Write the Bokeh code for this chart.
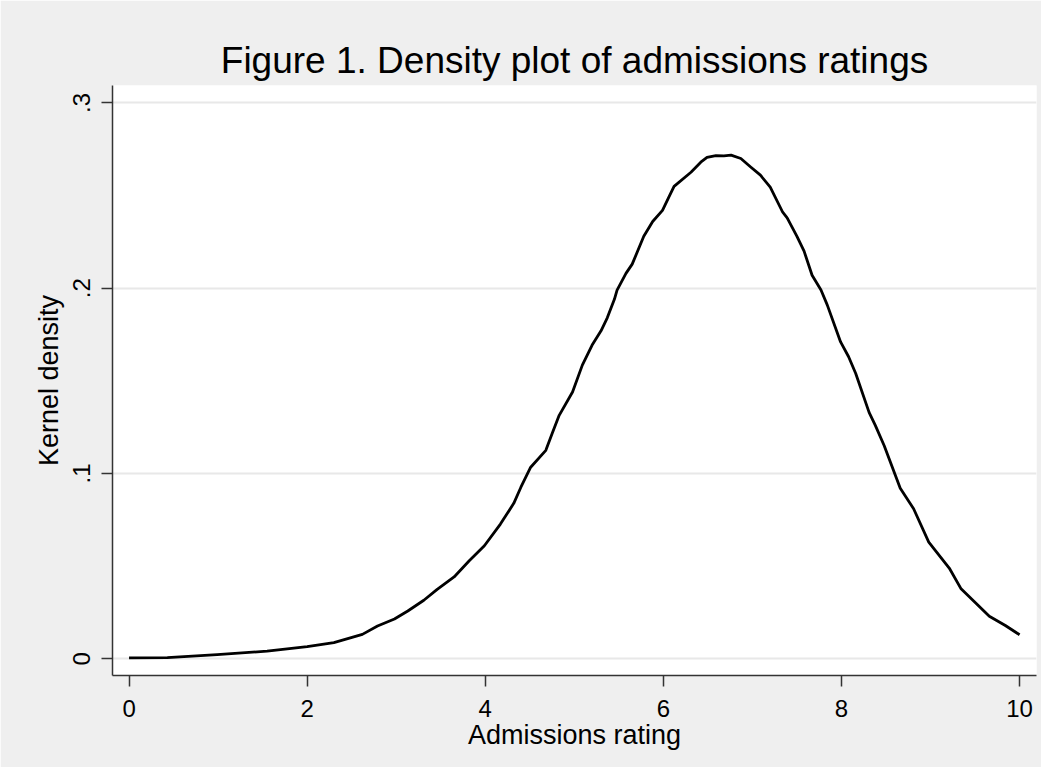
from bokeh.plotting import figure
from bokeh.models import Range1d, FixedTicker
from bokeh.embed import file_html
from bokeh.resources import INLINE

# Kernel density estimate
rating = [0.0, 0.43, 0.99, 1.55, 2.0, 2.3, 2.62, 2.79, 2.98, 3.13, 3.31, 3.46, 3.65,
          3.82, 3.99, 4.17, 4.32, 4.40, 4.51, 4.68, 4.75, 4.83, 4.98, 5.09, 5.20,
          5.30, 5.37, 5.45, 5.48, 5.58, 5.65, 5.78, 5.88, 5.99, 6.06, 6.12, 6.31,
          6.42, 6.49, 6.59, 6.68, 6.76, 6.87, 6.98, 7.09, 7.20, 7.34, 7.39, 7.50,
          7.58, 7.67, 7.77, 7.84, 7.99, 8.08, 8.16, 8.31, 8.38, 8.48, 8.66, 8.81,
          8.98, 9.21, 9.34, 9.49, 9.66, 9.84, 10.0]
density = [0.0005, 0.0006, 0.0023, 0.0041, 0.0066, 0.0087, 0.0132, 0.0177, 0.0215,
           0.0258, 0.0316, 0.0375, 0.0442, 0.0529, 0.061, 0.0727, 0.0839, 0.0926,
           0.1034, 0.1125, 0.1215, 0.1314, 0.144, 0.1585, 0.1693, 0.177, 0.184,
           0.194, 0.199, 0.208, 0.213, 0.228, 0.236, 0.242, 0.249, 0.255, 0.2626,
           0.268, 0.2706, 0.2716, 0.2714, 0.2718, 0.270, 0.2654, 0.261, 0.2546,
           0.241, 0.238, 0.228, 0.22, 0.207, 0.199, 0.191, 0.171, 0.163, 0.154,
           0.133, 0.126, 0.115, 0.092, 0.081, 0.063, 0.049, 0.038, 0.031, 0.023,
           0.018, 0.013]

x_ticks = [0, 2, 4, 6, 8, 10]
y_ticks = [0, 0.1, 0.2, 0.3]
y_tick_labels = ["0", ".1", ".2", ".3"]

FONT = "Liberation Sans"
BG = "#efefef"
AXC = "#333333"

p = figure(width=1041, height=767, output_backend="svg", toolbar_location=None,
           x_range=Range1d(-0.186, 10.19), y_range=Range1d(-0.009, 0.3094),
           min_border_left=112, min_border_right=5, min_border_top=85,
           min_border_bottom=92)
p.background_fill_color = "white"
p.border_fill_color = BG
p.outline_line_color = None

p.title.text = "Figure 1. Density plot of admissions ratings"
p.title.text_font = FONT
p.title.text_font_size = "37px"
p.title.text_font_style = "normal"
p.title.text_color = "black"
p.title.align = "center"
p.title.standoff = 9
p.title.offset = 6

p.line(rating, density, line_color="black", line_width=2.8, line_join="round")

for ax in (p.xaxis[0], p.yaxis[0]):
    ax.axis_line_color = AXC
    ax.axis_line_width = 1.5
    ax.major_tick_line_color = AXC
    ax.major_tick_line_width = 1.5
    ax.major_tick_out = 11
    ax.major_tick_in = 0
    ax.minor_tick_line_color = None
    ax.major_label_text_font = FONT
    ax.major_label_text_font_size = "24px"
    ax.major_label_text_color = "black"
    ax.axis_label_text_font = FONT
    ax.axis_label_text_font_size = "27px"
    ax.axis_label_text_font_style = "normal"
    ax.axis_label_text_color = "black"

p.xaxis.ticker = FixedTicker(ticks=x_ticks)
p.xaxis.axis_label = "Admissions rating"
p.xaxis.major_label_standoff = 13
p.xaxis.axis_label_standoff = 0

p.yaxis.ticker = FixedTicker(ticks=y_ticks)
p.yaxis.major_label_overrides = {t: l for t, l in zip(y_ticks, y_tick_labels)}
p.yaxis.major_label_orientation = "vertical"
p.yaxis.axis_label = "Kernel density"
p.yaxis.major_label_standoff = 11
p.yaxis.axis_label_standoff = 7

p.xgrid.grid_line_color = None
p.ygrid.grid_line_color = "#e8e8e8"
p.ygrid.grid_line_width = 2

open("out.html", "w").write(file_html(p, INLINE))
